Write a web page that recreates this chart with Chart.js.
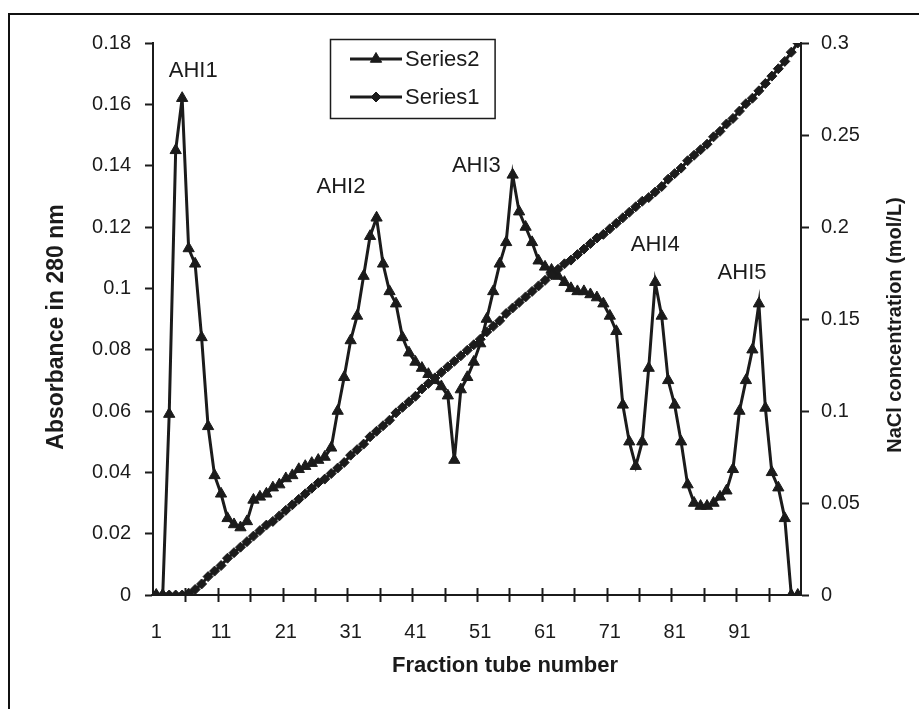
<!DOCTYPE html>
<html>
<head>
<meta charset="utf-8">
<script src="https://cdn.jsdelivr.net/npm/chart.js@4.4.1/dist/chart.umd.min.js"></script>
<style>
  html, body { margin: 0; padding: 0; background: #fff; overflow: hidden; }
  #wrap { position: relative; width: 919px; height: 709px; overflow: hidden; }
  #frame { position: absolute; left: 8px; top: 13px; width: 1000px; height: 1000px; border: 2px solid #111; }
  canvas { position: absolute; left: 0; top: 0; }
</style>
</head>
<body>
<div id="wrap">
  <div id="frame"></div>
  <canvas id="chart" width="919" height="709"></canvas>
</div>
<script>
const ink = '#1b1b1b';
const fontFamily = '"Liberation Sans", Arial, sans-serif';

// fraction tubes 1..100, labels shown every 10th tube
const tubes = Array.from({ length: 100 }, (_, i) => i + 1);
const shownTubes = [1, 11, 21, 31, 41, 51, 61, 71, 81, 91];

// Series2: absorbance at 280 nm (left axis)
const absorbance = [
  0, 0, 0.059, 0.145, 0.162, 0.113, 0.108, 0.084, 0.055, 0.039,
  0.033, 0.025, 0.023, 0.022, 0.024, 0.031, 0.032, 0.033, 0.035, 0.036,
  0.038, 0.039, 0.041, 0.042, 0.043, 0.044, 0.045, 0.048, 0.060, 0.071,
  0.083, 0.091, 0.104, 0.117, 0.123, 0.108, 0.099, 0.095, 0.084, 0.079,
  0.076, 0.074, 0.072, 0.070, 0.068, 0.065, 0.044, 0.067, 0.071, 0.076,
  0.082, 0.090, 0.099, 0.108, 0.115, 0.137, 0.125, 0.120, 0.115, 0.109,
  0.107, 0.106, 0.104, 0.102, 0.100, 0.099, 0.099, 0.098, 0.097, 0.095,
  0.091, 0.086, 0.062, 0.050, 0.042, 0.050, 0.074, 0.102, 0.091, 0.070,
  0.062, 0.050, 0.036, 0.030, 0.029, 0.029, 0.030, 0.032, 0.034, 0.041,
  0.060, 0.070, 0.080, 0.095, 0.061, 0.040, 0.035, 0.025, 0, 0
];

// Series1: NaCl gradient in mol/L (right axis)
const nacl = [
  0, 0, 0, 0, 0, 0.001, 0.003, 0.006, 0.010, 0.013,
  0.016, 0.020, 0.023, 0.026, 0.029, 0.032, 0.035, 0.038, 0.040, 0.043,
  0.046, 0.049, 0.052, 0.055, 0.058, 0.061, 0.063, 0.066, 0.069, 0.072,
  0.076, 0.079, 0.082, 0.086, 0.089, 0.092, 0.095, 0.099, 0.102, 0.105,
  0.108, 0.112, 0.115, 0.118, 0.121, 0.124, 0.127, 0.130, 0.133, 0.136,
  0.139, 0.143, 0.146, 0.149, 0.153, 0.156, 0.159, 0.162, 0.165, 0.168,
  0.171, 0.174, 0.177, 0.180, 0.182, 0.185, 0.188, 0.191, 0.194, 0.196,
  0.199, 0.202, 0.205, 0.208, 0.211, 0.214, 0.216, 0.219, 0.222, 0.226,
  0.229, 0.232, 0.236, 0.239, 0.242, 0.245, 0.249, 0.252, 0.256, 0.259,
  0.263, 0.267, 0.270, 0.274, 0.278, 0.282, 0.286, 0.290, 0.295, 0.300
];

// peak names and where their text sits (tube number, absorbance level)
const peakNames = ['AHI1', 'AHI2', 'AHI3', 'AHI4', 'AHI5'];
const peakNameTube = [6.7, 29.5, 50.4, 78.0, 91.4];
const peakNameLevel = [0.171, 0.133, 0.140, 0.114, 0.105];

const fmt = v => String(Number(Number(v).toFixed(2)));

// axis titles, legend, peak names and crossing x tick marks
const decorations = {
  id: 'decorations',
  afterDraw(chart) {
    const { ctx, chartArea: area, scales: { x, y } } = chart;
    const step = x.getPixelForValue(1) - x.getPixelForValue(0);
    ctx.save();

    ctx.strokeStyle = ink;
    ctx.lineWidth = 2;
    for (let k = 5; k < tubes.length; k += 5) {
      const px = Math.round(x.getPixelForValue(k) - step / 2) + 0.5;
      ctx.beginPath();
      ctx.moveTo(px, area.bottom - 7);
      ctx.lineTo(px, area.bottom + 7);
      ctx.stroke();
    }

    ctx.fillStyle = ink;
    ctx.textAlign = 'center';
    ctx.textBaseline = 'middle';
    ctx.font = '22px ' + fontFamily;
    peakNames.forEach((name, i) => {
      const px = x.getPixelForValue(0) + (peakNameTube[i] - 1) * step;
      ctx.fillText(name, px, y.getPixelForValue(peakNameLevel[i]));
    });

    const midY = (area.top + area.bottom) / 2;
    ctx.font = 'bold 22px ' + fontFamily;
    ctx.fillText('Fraction tube number', area.left + 352, area.bottom + 71);

    ctx.save();
    ctx.translate(area.left - 96, midY + 8);
    ctx.rotate(-Math.PI / 2);
    ctx.font = 'bold 23px ' + fontFamily;
    ctx.fillText('Absorbance in 280 nm', 0, 0);
    ctx.restore();

    ctx.save();
    ctx.translate(area.right + 94, midY + 6);
    ctx.rotate(-Math.PI / 2);
    ctx.font = 'bold 20px ' + fontFamily;
    ctx.fillText('NaCl concentration (mol/L)', 0, 0);
    ctx.restore();

    // legend box
    const items = [chart.data.datasets[1], chart.data.datasets[0]];
    const boxX = area.left + 177, boxY = area.top - 4;
    ctx.font = '22px ' + fontFamily;
    const textW = Math.max(...items.map(d => ctx.measureText(d.label).width));
    const boxW = 20 + 52 + 4 + textW + 14, boxH = 79;
    ctx.fillStyle = '#fff';
    ctx.fillRect(boxX, boxY, boxW, boxH);
    ctx.lineWidth = 1.5;
    ctx.strokeRect(boxX + 0.5, boxY + 0.5, boxW, boxH);
    items.forEach((d, i) => {
      const ry = boxY + 20 + i * 38;
      ctx.strokeStyle = ink;
      ctx.lineWidth = 3;
      ctx.beginPath();
      ctx.moveTo(boxX + 20, ry);
      ctx.lineTo(boxX + 72, ry);
      ctx.stroke();
      ctx.fillStyle = ink;
      ctx.lineWidth = 1;
      Chart.helpers.drawPoint(ctx, { pointStyle: d.pointStyle, radius: d.pointRadius, rotation: 0, borderWidth: 1 }, boxX + 46, ry);
      ctx.textAlign = 'left';
      ctx.fillText(d.label, boxX + 75, ry + 1);
    });

    ctx.restore();
  }
};

new Chart(document.getElementById('chart'), {
  type: 'line',
  data: {
    labels: tubes,
    datasets: [
      {
        label: 'Series1',
        data: nacl,
        yAxisID: 'y1',
        borderColor: ink,
        backgroundColor: ink,
        borderWidth: 3,
        pointStyle: 'rectRot',
        pointRadius: 5,
        pointBorderWidth: 1,
        tension: 0
      },
      {
        label: 'Series2',
        data: absorbance,
        yAxisID: 'y',
        borderColor: ink,
        backgroundColor: ink,
        borderWidth: 3,
        pointStyle: 'triangle',
        pointRadius: 6.5,
        pointBorderWidth: 1,
        tension: 0
      }
    ]
  },
  options: {
    responsive: false,
    animation: false,
    devicePixelRatio: 1,
    layout: { padding: { top: 43, left: 0, right: 0, bottom: 0 } },
    plugins: { legend: { display: false }, tooltip: { enabled: false } },
    scales: {
      x: {
        type: 'category',
        offset: true,
        grid: { display: false, drawTicks: false },
        border: { display: true, color: ink, width: 2 },
        ticks: {
          autoSkip: false,
          maxRotation: 0,
          padding: 25,
          color: ink,
          font: { family: fontFamily, size: 20 },
          callback: (value, index) => shownTubes.includes(tubes[index]) ? String(tubes[index]) : ''
        },
        afterFit: s => { s.height = 114; }
      },
      y: {
        position: 'left',
        min: 0,
        max: 0.18,
        grid: { drawOnChartArea: false, tickLength: 8, tickColor: ink, tickWidth: 2 },
        border: { color: ink, width: 2 },
        ticks: { stepSize: 0.02, padding: 14, color: ink, font: { family: fontFamily, size: 20 }, callback: fmt },
        afterFit: s => { s.width = 153; }
      },
      y1: {
        position: 'right',
        min: 0,
        max: 0.3,
        grid: { drawOnChartArea: false, tickLength: 8, tickColor: ink, tickWidth: 2 },
        border: { color: ink, width: 2 },
        ticks: { stepSize: 0.05, padding: 12, color: ink, font: { family: fontFamily, size: 20 }, callback: fmt },
        afterFit: s => { s.width = 118; }
      }
    }
  },
  plugins: [decorations]
});
</script>
</body>
</html>
